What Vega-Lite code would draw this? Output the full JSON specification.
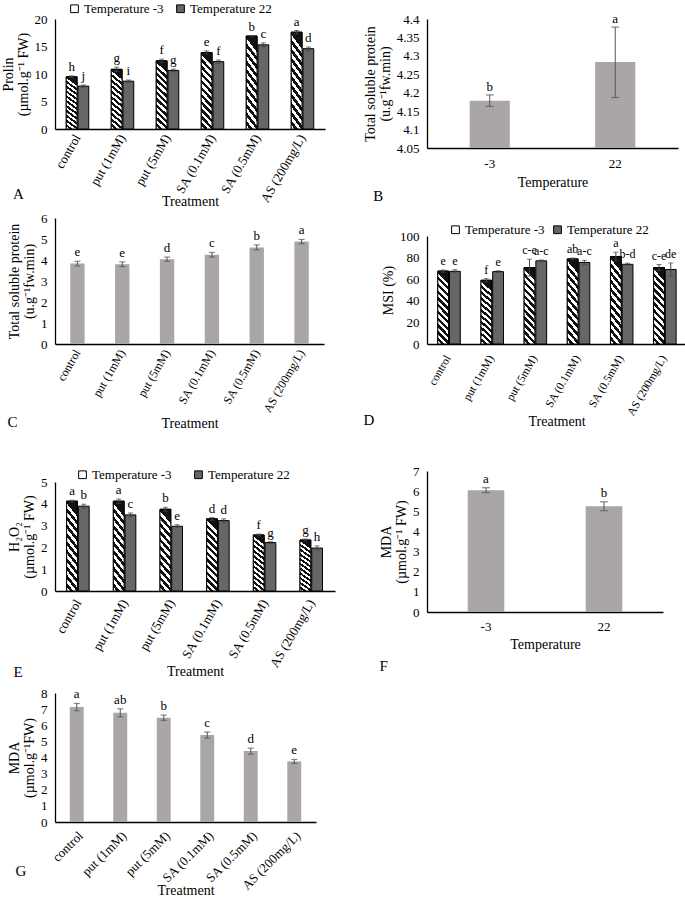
{
  "$schema": "https://vega.github.io/schema/vega-lite/v6.json",
  "padding": {"left": 1, "top": 2, "right": 0, "bottom": 0},
  "background": "white",
  "config": {
    "font": "Liberation Serif",
    "view": {"stroke": null},
    "axis": {"labelFont": "Liberation Serif", "titleFont": "Liberation Serif", "labelFontSize": 13, "titleFontSize": 14, "titleFontWeight": "normal", "labelColor": "#000", "titleColor": "#000", "domainColor": "#000", "domainWidth": 1.3, "ticks": false, "grid": false, "titleLineHeight": 15, "labelOverlap": false},
    "axisY": {"labelPadding": 8},
    "axisX": {"labelPadding": 4},
    "legend": {"labelFont": "Liberation Serif", "labelFontSize": 13, "labelColor": "#000", "padding": 0, "symbolType": "square", "symbolSize": 60, "symbolStrokeColor": "#000", "symbolStrokeWidth": 1, "labelOffset": 3},
    "title": {"font": "Liberation Serif", "fontSize": 15, "fontWeight": "normal", "color": "#000", "orient": "bottom", "anchor": "start", "frame": "bounds"},
    "text": {"font": "Liberation Serif", "fontSize": 13, "color": "#000"}
  },
  "spacing": 28,
  "resolve": {"scale": {"fill": "independent"}, "legend": {"fill": "independent"}},
  "hconcat": [
    {
      "spacing": 37,
      "resolve": {"scale": {"fill": "independent"}, "legend": {"fill": "independent"}},
      "vconcat": [
        {
          "spacing": 3,
          "resolve": {"scale": {"fill": "independent"}, "legend": {"fill": "independent"}},
          "vconcat": [
            {
              "width": 270, "height": 110,
              "title": {"text": "A", "offset": -21, "dx": 12},
              "data": {"values": [
                {"trt": "control", "t": "-3", "v": 9.5, "lo": 9.35, "hi": 9.65, "lab": "h"},
                {"trt": "control", "t": "22", "v": 7.8, "lo": 7.6, "hi": 8.0, "lab": "j"},
                {"trt": "put (1mM)", "t": "-3", "v": 10.85, "lo": 10.45, "hi": 11.25, "lab": "g"},
                {"trt": "put (1mM)", "t": "22", "v": 8.7, "lo": 8.5, "hi": 8.9, "lab": "i"},
                {"trt": "put (5mM)", "t": "-3", "v": 12.4, "lo": 12.1, "hi": 12.7, "lab": "f"},
                {"trt": "put (5mM)", "t": "22", "v": 10.65, "lo": 10.4, "hi": 10.9, "lab": "g"},
                {"trt": "SA (0.1mM)", "t": "-3", "v": 13.9, "lo": 13.6, "hi": 14.2, "lab": "e"},
                {"trt": "SA (0.1mM)", "t": "22", "v": 12.25, "lo": 11.95, "hi": 12.55, "lab": "f"},
                {"trt": "SA (0.5mM)", "t": "-3", "v": 16.9, "lo": 16.8, "hi": 17.0, "lab": "b"},
                {"trt": "SA (0.5mM)", "t": "22", "v": 15.3, "lo": 14.95, "hi": 15.65, "lab": "c"},
                {"trt": "AS (200mg/L)", "t": "-3", "v": 17.6, "lo": 17.3, "hi": 17.9, "lab": "a"},
                {"trt": "AS (200mg/L)", "t": "22", "v": 14.6, "lo": 14.3, "hi": 14.9, "lab": "d"}
              ]},
              "encoding": {
                "x": {"field": "trt", "type": "nominal", "sort": null, "scale": {"paddingInner": 0.5, "paddingOuter": 0.25}, "axis": {"title": "Treatment", "labelAngle": -60, "labelPadding": 6, "titlePadding": -10}},
                "xOffset": {"field": "t", "type": "nominal", "sort": null, "scale": {"domain": ["-3", "22"], "paddingInner": 0.08}}
              },
              "layer": [
                {
                  "mark": {"type": "bar", "stroke": "#000", "strokeWidth": 1},
                  "encoding": {
                    "y": {"field": "v", "type": "quantitative", "scale": {"domain": [0, 20]}, "axis": {"title": ["Prolin", "(µmol.g⁻¹ FW)"], "values": [0, 5, 10, 15, 20]}},
                    "fill": {"field": "t", "type": "nominal", "sort": null,
                      "scale": {"domain": ["-3", "22"], "range": ["#ffffff", "#666666"]},
                      "legend": {"title": null, "orient": "none", "legendX": 13, "legendY": -17, "direction": "horizontal", "columnPadding": 10, "labelExpr": "'Temperature ' + datum.label",
                        "encode": {"symbols": {"update": {"fill": [{"test": "datum.value === '-3'", "value": {"gradient": "linear", "x1": 0, "y1": 1, "x2": 0.6, "y2": 0, "stops": [{"offset": 0, "color": "#ffffff"}, {"offset": 0.17, "color": "#ffffff"}, {"offset": 0.17, "color": "#111111"}, {"offset": 0.33, "color": "#111111"}, {"offset": 0.33, "color": "#ffffff"}, {"offset": 0.5, "color": "#ffffff"}, {"offset": 0.5, "color": "#111111"}, {"offset": 0.67, "color": "#111111"}, {"offset": 0.67, "color": "#ffffff"}, {"offset": 0.83, "color": "#ffffff"}, {"offset": 0.83, "color": "#111111"}, {"offset": 1, "color": "#111111"}]}}, {"value": "#666666"}], "stroke": {"value": "#000"}}}}}}
                  }
                },
                {
                  "transform": [{"filter": {"field": "t", "equal": "-3"}}],
                  "mark": {"type": "bar", "stroke": "#000", "strokeWidth": 1, "fill": {"gradient": "linear", "x1": 0, "y1": 1, "x2": 0.15, "y2": 0, "stops": [
                          {"offset": 0, "color": "#ffffff"}, {"offset": 0.0455, "color": "#ffffff"}, {"offset": 0.0455, "color": "#111111"}, {"offset": 0.0909, "color": "#111111"},
                          {"offset": 0.0909, "color": "#ffffff"}, {"offset": 0.1364, "color": "#ffffff"}, {"offset": 0.1364, "color": "#111111"}, {"offset": 0.1818, "color": "#111111"},
                          {"offset": 0.1818, "color": "#ffffff"}, {"offset": 0.2273, "color": "#ffffff"}, {"offset": 0.2273, "color": "#111111"}, {"offset": 0.2727, "color": "#111111"},
                          {"offset": 0.2727, "color": "#ffffff"}, {"offset": 0.3182, "color": "#ffffff"}, {"offset": 0.3182, "color": "#111111"}, {"offset": 0.3636, "color": "#111111"},
                          {"offset": 0.3636, "color": "#ffffff"}, {"offset": 0.4091, "color": "#ffffff"}, {"offset": 0.4091, "color": "#111111"}, {"offset": 0.4545, "color": "#111111"},
                          {"offset": 0.4545, "color": "#ffffff"}, {"offset": 0.5, "color": "#ffffff"}, {"offset": 0.5, "color": "#111111"}, {"offset": 0.5455, "color": "#111111"},
                          {"offset": 0.5455, "color": "#ffffff"}, {"offset": 0.5909, "color": "#ffffff"}, {"offset": 0.5909, "color": "#111111"}, {"offset": 0.6364, "color": "#111111"},
                          {"offset": 0.6364, "color": "#ffffff"}, {"offset": 0.6818, "color": "#ffffff"}, {"offset": 0.6818, "color": "#111111"}, {"offset": 0.7273, "color": "#111111"},
                          {"offset": 0.7273, "color": "#ffffff"}, {"offset": 0.7727, "color": "#ffffff"}, {"offset": 0.7727, "color": "#111111"}, {"offset": 0.8182, "color": "#111111"},
                          {"offset": 0.8182, "color": "#ffffff"}, {"offset": 0.8636, "color": "#ffffff"}, {"offset": 0.8636, "color": "#111111"}, {"offset": 0.9091, "color": "#111111"},
                          {"offset": 0.9091, "color": "#ffffff"}, {"offset": 0.9545, "color": "#ffffff"}, {"offset": 0.9545, "color": "#111111"}, {"offset": 1, "color": "#111111"}]}},
                  "encoding": {"y": {"field": "v", "type": "quantitative", "axis": {"title": ["Prolin", "(µmol.g⁻¹ FW)"], "values": [0, 5, 10, 15, 20]}}}
                },
                {"mark": {"type": "rule", "color": "#444"}, "encoding": {"y": {"field": "lo", "type": "quantitative", "axis": {"title": ["Prolin", "(µmol.g⁻¹ FW)"], "values": [0, 5, 10, 15, 20]}}, "y2": {"field": "hi"}}},
                {"mark": {"type": "tick", "color": "#444", "size": 5, "thickness": 1}, "encoding": {"y": {"field": "lo", "type": "quantitative", "axis": {"title": ["Prolin", "(µmol.g⁻¹ FW)"], "values": [0, 5, 10, 15, 20]}}}},
                {"mark": {"type": "tick", "color": "#444", "size": 5, "thickness": 1}, "encoding": {"y": {"field": "hi", "type": "quantitative", "axis": {"title": ["Prolin", "(µmol.g⁻¹ FW)"], "values": [0, 5, 10, 15, 20]}}}},
                {"mark": {"type": "text", "baseline": "alphabetic", "dy": -5, "fill": "#000"}, "encoding": {"y": {"field": "hi", "type": "quantitative", "axis": {"title": ["Prolin", "(µmol.g⁻¹ FW)"], "values": [0, 5, 10, 15, 20]}}, "text": {"field": "lab"}}}
              ]
            },
            {
              "width": 269, "height": 126,
              "title": {"text": "C", "offset": -16, "dx": 0},
              "data": {"values": [
                {"trt": "control", "v": 3.83, "lo": 3.72, "hi": 3.94, "lab": "e"},
                {"trt": "put (1mM)", "v": 3.8, "lo": 3.69, "hi": 3.91, "lab": "e"},
                {"trt": "put (5mM)", "v": 4.04, "lo": 3.94, "hi": 4.14, "lab": "d"},
                {"trt": "SA (0.1mM)", "v": 4.25, "lo": 4.14, "hi": 4.36, "lab": "c"},
                {"trt": "SA (0.5mM)", "v": 4.6, "lo": 4.48, "hi": 4.72, "lab": "b"},
                {"trt": "AS (200mg/L)", "v": 4.88, "lo": 4.78, "hi": 4.98, "lab": "a"}
              ]},
              "encoding": {
                "x": {"field": "trt", "type": "nominal", "sort": null, "scale": {"paddingInner": 0.68, "paddingOuter": 0.34}, "axis": {"title": "Treatment", "labelAngle": -60, "labelFontSize": 12, "labelPadding": 6, "titlePadding": 3}}
              },
              "layer": [
                {"mark": {"type": "bar", "color": "#a9a6a5"}, "encoding": {"y": {"field": "v", "type": "quantitative", "scale": {"domain": [0, 6]}, "axis": {"title": ["Total soluble protein", "(u.g⁻¹fw.min)"], "values": [0, 1, 2, 3, 4, 5, 6]}}}},
                {"mark": {"type": "rule", "color": "#555"}, "encoding": {"y": {"field": "lo", "type": "quantitative", "axis": {"title": ["Total soluble protein", "(u.g⁻¹fw.min)"], "values": [0, 1, 2, 3, 4, 5, 6]}}, "y2": {"field": "hi"}}},
                {"mark": {"type": "tick", "color": "#555", "size": 6, "thickness": 1.2}, "encoding": {"y": {"field": "lo", "type": "quantitative", "axis": {"title": ["Total soluble protein", "(u.g⁻¹fw.min)"], "values": [0, 1, 2, 3, 4, 5, 6]}}}},
                {"mark": {"type": "tick", "color": "#555", "size": 6, "thickness": 1.2}, "encoding": {"y": {"field": "hi", "type": "quantitative", "axis": {"title": ["Total soluble protein", "(u.g⁻¹fw.min)"], "values": [0, 1, 2, 3, 4, 5, 6]}}}},
                {"mark": {"type": "text", "baseline": "alphabetic", "dy": -5, "fill": "#000"}, "encoding": {"y": {"field": "hi", "type": "quantitative", "axis": {"title": ["Total soluble protein", "(u.g⁻¹fw.min)"], "values": [0, 1, 2, 3, 4, 5, 6]}}, "text": {"field": "lab"}}}
              ]
            }
          ]
        },
        {
          "spacing": 6,
          "resolve": {"scale": {"fill": "independent"}, "legend": {"fill": "independent"}},
          "vconcat": [
            {
              "width": 280, "height": 109,
              "title": {"text": "E", "offset": -13, "dx": 6},
              "data": {"values": [
                {"trt": "control", "t": "-3", "v": 4.12, "lo": 4.08, "hi": 4.16, "lab": "a"},
                {"trt": "control", "t": "22", "v": 3.89, "lo": 3.8, "hi": 3.98, "lab": "b"},
                {"trt": "put (1mM)", "t": "-3", "v": 4.12, "lo": 4.02, "hi": 4.22, "lab": "a"},
                {"trt": "put (1mM)", "t": "22", "v": 3.49, "lo": 3.4, "hi": 3.58, "lab": "c"},
                {"trt": "put (5mM)", "t": "-3", "v": 3.75, "lo": 3.66, "hi": 3.84, "lab": "b"},
                {"trt": "put (5mM)", "t": "22", "v": 2.97, "lo": 2.9, "hi": 3.04, "lab": "e"},
                {"trt": "SA (0.1mM)", "t": "-3", "v": 3.31, "lo": 3.25, "hi": 3.37, "lab": "d"},
                {"trt": "SA (0.1mM)", "t": "22", "v": 3.23, "lo": 3.15, "hi": 3.31, "lab": "d"},
                {"trt": "SA (0.5mM)", "t": "-3", "v": 2.57, "lo": 2.53, "hi": 2.61, "lab": "f"},
                {"trt": "SA (0.5mM)", "t": "22", "v": 2.22, "lo": 2.18, "hi": 2.26, "lab": "g"},
                {"trt": "AS (200mg/L)", "t": "-3", "v": 2.34, "lo": 2.3, "hi": 2.38, "lab": "g"},
                {"trt": "AS (200mg/L)", "t": "22", "v": 1.97, "lo": 1.87, "hi": 2.07, "lab": "h"}
              ]},
              "encoding": {
                "x": {"field": "trt", "type": "nominal", "sort": null, "scale": {"paddingInner": 0.5, "paddingOuter": 0.25}, "axis": {"title": "Treatment", "labelAngle": -60, "labelPadding": 9, "titlePadding": -5}},
                "xOffset": {"field": "t", "type": "nominal", "sort": null, "scale": {"domain": ["-3", "22"], "paddingInner": 0.08}}
              },
              "layer": [
                {
                  "mark": {"type": "bar", "stroke": "#000", "strokeWidth": 1},
                  "encoding": {
                    "y": {"field": "v", "type": "quantitative", "scale": {"domain": [0, 5]}, "axis": {"title": ["H₂O₂", "(µmol.g⁻¹ FW)"], "values": [0, 1, 2, 3, 4, 5]}},
                    "fill": {"field": "t", "type": "nominal", "sort": null,
                      "scale": {"domain": ["-3", "22"], "range": ["#ffffff", "#666666"]},
                      "legend": {"title": null, "orient": "none", "legendX": 21, "legendY": -14, "direction": "horizontal", "columnPadding": 20, "labelExpr": "'Temperature ' + datum.label",
                        "encode": {"symbols": {"update": {"fill": [{"test": "datum.value === '-3'", "value": {"gradient": "linear", "x1": 0, "y1": 1, "x2": 0.6, "y2": 0, "stops": [{"offset": 0, "color": "#ffffff"}, {"offset": 0.17, "color": "#ffffff"}, {"offset": 0.17, "color": "#111111"}, {"offset": 0.33, "color": "#111111"}, {"offset": 0.33, "color": "#ffffff"}, {"offset": 0.5, "color": "#ffffff"}, {"offset": 0.5, "color": "#111111"}, {"offset": 0.67, "color": "#111111"}, {"offset": 0.67, "color": "#ffffff"}, {"offset": 0.83, "color": "#ffffff"}, {"offset": 0.83, "color": "#111111"}, {"offset": 1, "color": "#111111"}]}}, {"value": "#666666"}], "stroke": {"value": "#000"}}}}}}
                  }
                },
                {
                  "transform": [{"filter": {"field": "t", "equal": "-3"}}],
                  "mark": {"type": "bar", "stroke": "#000", "strokeWidth": 1, "fill": {"gradient": "linear", "x1": 0, "y1": 1, "x2": 0.15, "y2": 0, "stops": [
                          {"offset": 0, "color": "#ffffff"}, {"offset": 0.0455, "color": "#ffffff"}, {"offset": 0.0455, "color": "#111111"}, {"offset": 0.0909, "color": "#111111"},
                          {"offset": 0.0909, "color": "#ffffff"}, {"offset": 0.1364, "color": "#ffffff"}, {"offset": 0.1364, "color": "#111111"}, {"offset": 0.1818, "color": "#111111"},
                          {"offset": 0.1818, "color": "#ffffff"}, {"offset": 0.2273, "color": "#ffffff"}, {"offset": 0.2273, "color": "#111111"}, {"offset": 0.2727, "color": "#111111"},
                          {"offset": 0.2727, "color": "#ffffff"}, {"offset": 0.3182, "color": "#ffffff"}, {"offset": 0.3182, "color": "#111111"}, {"offset": 0.3636, "color": "#111111"},
                          {"offset": 0.3636, "color": "#ffffff"}, {"offset": 0.4091, "color": "#ffffff"}, {"offset": 0.4091, "color": "#111111"}, {"offset": 0.4545, "color": "#111111"},
                          {"offset": 0.4545, "color": "#ffffff"}, {"offset": 0.5, "color": "#ffffff"}, {"offset": 0.5, "color": "#111111"}, {"offset": 0.5455, "color": "#111111"},
                          {"offset": 0.5455, "color": "#ffffff"}, {"offset": 0.5909, "color": "#ffffff"}, {"offset": 0.5909, "color": "#111111"}, {"offset": 0.6364, "color": "#111111"},
                          {"offset": 0.6364, "color": "#ffffff"}, {"offset": 0.6818, "color": "#ffffff"}, {"offset": 0.6818, "color": "#111111"}, {"offset": 0.7273, "color": "#111111"},
                          {"offset": 0.7273, "color": "#ffffff"}, {"offset": 0.7727, "color": "#ffffff"}, {"offset": 0.7727, "color": "#111111"}, {"offset": 0.8182, "color": "#111111"},
                          {"offset": 0.8182, "color": "#ffffff"}, {"offset": 0.8636, "color": "#ffffff"}, {"offset": 0.8636, "color": "#111111"}, {"offset": 0.9091, "color": "#111111"},
                          {"offset": 0.9091, "color": "#ffffff"}, {"offset": 0.9545, "color": "#ffffff"}, {"offset": 0.9545, "color": "#111111"}, {"offset": 1, "color": "#111111"}]}},
                  "encoding": {"y": {"field": "v", "type": "quantitative", "axis": {"title": ["H₂O₂", "(µmol.g⁻¹ FW)"], "values": [0, 1, 2, 3, 4, 5]}}}
                },
                {"mark": {"type": "rule", "color": "#444"}, "encoding": {"y": {"field": "lo", "type": "quantitative", "axis": {"title": ["H₂O₂", "(µmol.g⁻¹ FW)"], "values": [0, 1, 2, 3, 4, 5]}}, "y2": {"field": "hi"}}},
                {"mark": {"type": "tick", "color": "#444", "size": 5, "thickness": 1}, "encoding": {"y": {"field": "lo", "type": "quantitative", "axis": {"title": ["H₂O₂", "(µmol.g⁻¹ FW)"], "values": [0, 1, 2, 3, 4, 5]}}}},
                {"mark": {"type": "tick", "color": "#444", "size": 5, "thickness": 1}, "encoding": {"y": {"field": "hi", "type": "quantitative", "axis": {"title": ["H₂O₂", "(µmol.g⁻¹ FW)"], "values": [0, 1, 2, 3, 4, 5]}}}},
                {"mark": {"type": "text", "baseline": "alphabetic", "dy": -5, "fill": "#000"}, "encoding": {"y": {"field": "hi", "type": "quantitative", "axis": {"title": ["H₂O₂", "(µmol.g⁻¹ FW)"], "values": [0, 1, 2, 3, 4, 5]}}, "text": {"field": "lab"}}}
              ]
            },
            {
              "width": 261, "height": 129,
              "title": {"text": "G", "offset": -33, "dx": 8},
              "data": {"values": [
                {"trt": "control", "v": 7.13, "lo": 6.9, "hi": 7.35, "lab": "a"},
                {"trt": "put (1mM)", "v": 6.78, "lo": 6.52, "hi": 7.02, "lab": "ab"},
                {"trt": "put (5mM)", "v": 6.47, "lo": 6.3, "hi": 6.63, "lab": "b"},
                {"trt": "SA (0.1mM)", "v": 5.4, "lo": 5.2, "hi": 5.58, "lab": "c"},
                {"trt": "SA (0.5mM)", "v": 4.4, "lo": 4.2, "hi": 4.58, "lab": "d"},
                {"trt": "AS (200mg/L)", "v": 3.76, "lo": 3.63, "hi": 3.88, "lab": "e"}
              ]},
              "encoding": {
                "x": {"field": "trt", "type": "nominal", "sort": null, "scale": {"paddingInner": 0.68, "paddingOuter": 0.34}, "axis": {"title": "Treatment", "labelAngle": -45, "labelPadding": 7, "titlePadding": -9}}
              },
              "layer": [
                {"mark": {"type": "bar", "color": "#a9a6a5"}, "encoding": {"y": {"field": "v", "type": "quantitative", "scale": {"domain": [0, 8]}, "axis": {"title": ["MDA", "(µmol.g⁻¹FW)"], "values": [0, 1, 2, 3, 4, 5, 6, 7, 8]}}}},
                {"mark": {"type": "rule", "color": "#555"}, "encoding": {"y": {"field": "lo", "type": "quantitative", "axis": {"title": ["MDA", "(µmol.g⁻¹FW)"], "values": [0, 1, 2, 3, 4, 5, 6, 7, 8]}}, "y2": {"field": "hi"}}},
                {"mark": {"type": "tick", "color": "#555", "size": 6, "thickness": 1.2}, "encoding": {"y": {"field": "lo", "type": "quantitative", "axis": {"title": ["MDA", "(µmol.g⁻¹FW)"], "values": [0, 1, 2, 3, 4, 5, 6, 7, 8]}}}},
                {"mark": {"type": "tick", "color": "#555", "size": 6, "thickness": 1.2}, "encoding": {"y": {"field": "hi", "type": "quantitative", "axis": {"title": ["MDA", "(µmol.g⁻¹FW)"], "values": [0, 1, 2, 3, 4, 5, 6, 7, 8]}}}},
                {"mark": {"type": "text", "baseline": "alphabetic", "dy": -5, "fill": "#000"}, "encoding": {"y": {"field": "hi", "type": "quantitative", "axis": {"title": ["MDA", "(µmol.g⁻¹FW)"], "values": [0, 1, 2, 3, 4, 5, 6, 7, 8]}}, "text": {"field": "lab"}}}
              ]
            }
          ]
        }
      ]
    },
    {
      "spacing": 36,
      "resolve": {"scale": {"fill": "independent"}, "legend": {"fill": "independent"}},
      "vconcat": [
        {
          "spacing": 19,
          "resolve": {"scale": {"fill": "independent"}, "legend": {"fill": "independent"}},
          "vconcat": [
            {
              "width": 251, "height": 129,
              "title": {"text": "B", "offset": 0, "dx": 10},
              "data": {"values": [
                {"temp": "-3", "v": 4.178, "lo": 4.163, "hi": 4.194, "lab": "b"},
                {"temp": "22", "v": 4.283, "lo": 4.187, "hi": 4.378, "lab": "a"}
              ]},
              "encoding": {
                "x": {"field": "temp", "type": "nominal", "sort": null, "scale": {"paddingInner": 0.68, "paddingOuter": 0.34}, "axis": {"title": "Temperature", "labelAngle": 0, "labelPadding": 9, "titlePadding": 5}}
              },
              "layer": [
                {"mark": {"type": "bar", "color": "#a9a6a5"}, "encoding": {"y": {"field": "v", "type": "quantitative", "scale": {"domain": [4.05, 4.4], "zero": false, "nice": false}, "axis": {"title": ["Total soluble protein", "(u.g⁻¹fw.min)"], "values": [4.05, 4.1, 4.15, 4.2, 4.25, 4.3, 4.35, 4.4], "format": ".3~r"}}, "y2": {"datum": 4.05}}},
                {"mark": {"type": "rule", "color": "#555"}, "encoding": {"y": {"field": "lo", "type": "quantitative", "axis": {"title": ["Total soluble protein", "(u.g⁻¹fw.min)"], "values": [4.05, 4.1, 4.15, 4.2, 4.25, 4.3, 4.35, 4.4], "format": ".3~r"}}, "y2": {"field": "hi"}}},
                {"mark": {"type": "tick", "color": "#555", "size": 8, "thickness": 1.2}, "encoding": {"y": {"field": "lo", "type": "quantitative", "axis": {"title": ["Total soluble protein", "(u.g⁻¹fw.min)"], "values": [4.05, 4.1, 4.15, 4.2, 4.25, 4.3, 4.35, 4.4], "format": ".3~r"}}}},
                {"mark": {"type": "tick", "color": "#555", "size": 8, "thickness": 1.2}, "encoding": {"y": {"field": "hi", "type": "quantitative", "axis": {"title": ["Total soluble protein", "(u.g⁻¹fw.min)"], "values": [4.05, 4.1, 4.15, 4.2, 4.25, 4.3, 4.35, 4.4], "format": ".3~r"}}}},
                {"mark": {"type": "text", "baseline": "alphabetic", "dy": -4, "fill": "#000"}, "encoding": {"y": {"field": "hi", "type": "quantitative", "axis": {"title": ["Total soluble protein", "(u.g⁻¹fw.min)"], "values": [4.05, 4.1, 4.15, 4.2, 4.25, 4.3, 4.35, 4.4], "format": ".3~r"}}, "text": {"field": "lab"}}}
              ]
            },
            {
              "width": 259, "height": 108,
              "title": {"text": "D", "offset": -15, "dx": -18},
              "data": {"values": [
                {"trt": "control", "t": "-3", "v": 67.5, "lo": 66.5, "hi": 68.5, "lab": "e"},
                {"trt": "control", "t": "22", "v": 67.3, "lo": 65.8, "hi": 68.8, "lab": "e"},
                {"trt": "put (1mM)", "t": "-3", "v": 59, "lo": 57.5, "hi": 60.5, "lab": "f"},
                {"trt": "put (1mM)", "t": "22", "v": 67, "lo": 66.2, "hi": 67.8, "lab": "e"},
                {"trt": "put (5mM)", "t": "-3", "v": 70.8, "lo": 63, "hi": 78.5, "lab": "c-e"},
                {"trt": "put (5mM)", "t": "22", "v": 77, "lo": 76.2, "hi": 77.8, "lab": "a-c"},
                {"trt": "SA (0.1mM)", "t": "-3", "v": 78.8, "lo": 78, "hi": 79.6, "lab": "ab"},
                {"trt": "SA (0.1mM)", "t": "22", "v": 75.5, "lo": 73.5, "hi": 77.5, "lab": "a-c"},
                {"trt": "SA (0.5mM)", "t": "-3", "v": 81, "lo": 77, "hi": 85, "lab": "a"},
                {"trt": "SA (0.5mM)", "t": "22", "v": 73.8, "lo": 72.8, "hi": 74.8, "lab": "b-d"},
                {"trt": "AS (200mg/L)", "t": "-3", "v": 70.8, "lo": 68, "hi": 73.6, "lab": "c-e"},
                {"trt": "AS (200mg/L)", "t": "22", "v": 69, "lo": 63, "hi": 75, "lab": "de"}
              ]},
              "encoding": {
                "x": {"field": "trt", "type": "nominal", "sort": null, "scale": {"paddingInner": 0.5, "paddingOuter": 0.25}, "axis": {"title": "Treatment", "labelAngle": -60, "labelFontSize": 11.5, "labelPadding": 12, "titlePadding": -3}},
                "xOffset": {"field": "t", "type": "nominal", "sort": null, "scale": {"domain": ["-3", "22"], "paddingInner": 0.08}}
              },
              "layer": [
                {
                  "mark": {"type": "bar", "stroke": "#000", "strokeWidth": 1},
                  "encoding": {
                    "y": {"field": "v", "type": "quantitative", "scale": {"domain": [0, 100]}, "axis": {"title": "MSI (%)", "values": [0, 20, 40, 60, 80, 100]}},
                    "fill": {"field": "t", "type": "nominal", "sort": null,
                      "scale": {"domain": ["-3", "22"], "range": ["#ffffff", "#666666"]},
                      "legend": {"title": null, "orient": "none", "legendX": 22, "legendY": -13, "direction": "horizontal", "columnPadding": 6, "labelExpr": "'Temperature ' + datum.label",
                        "encode": {"symbols": {"update": {"fill": [{"test": "datum.value === '-3'", "value": {"gradient": "linear", "x1": 0, "y1": 1, "x2": 0.6, "y2": 0, "stops": [{"offset": 0, "color": "#ffffff"}, {"offset": 0.17, "color": "#ffffff"}, {"offset": 0.17, "color": "#111111"}, {"offset": 0.33, "color": "#111111"}, {"offset": 0.33, "color": "#ffffff"}, {"offset": 0.5, "color": "#ffffff"}, {"offset": 0.5, "color": "#111111"}, {"offset": 0.67, "color": "#111111"}, {"offset": 0.67, "color": "#ffffff"}, {"offset": 0.83, "color": "#ffffff"}, {"offset": 0.83, "color": "#111111"}, {"offset": 1, "color": "#111111"}]}}, {"value": "#666666"}], "stroke": {"value": "#000"}}}}}}
                  }
                },
                {
                  "transform": [{"filter": {"field": "t", "equal": "-3"}}],
                  "mark": {"type": "bar", "stroke": "#000", "strokeWidth": 1, "fill": {"gradient": "linear", "x1": 0, "y1": 1, "x2": 0.15, "y2": 0, "stops": [
                          {"offset": 0, "color": "#ffffff"}, {"offset": 0.0455, "color": "#ffffff"}, {"offset": 0.0455, "color": "#111111"}, {"offset": 0.0909, "color": "#111111"},
                          {"offset": 0.0909, "color": "#ffffff"}, {"offset": 0.1364, "color": "#ffffff"}, {"offset": 0.1364, "color": "#111111"}, {"offset": 0.1818, "color": "#111111"},
                          {"offset": 0.1818, "color": "#ffffff"}, {"offset": 0.2273, "color": "#ffffff"}, {"offset": 0.2273, "color": "#111111"}, {"offset": 0.2727, "color": "#111111"},
                          {"offset": 0.2727, "color": "#ffffff"}, {"offset": 0.3182, "color": "#ffffff"}, {"offset": 0.3182, "color": "#111111"}, {"offset": 0.3636, "color": "#111111"},
                          {"offset": 0.3636, "color": "#ffffff"}, {"offset": 0.4091, "color": "#ffffff"}, {"offset": 0.4091, "color": "#111111"}, {"offset": 0.4545, "color": "#111111"},
                          {"offset": 0.4545, "color": "#ffffff"}, {"offset": 0.5, "color": "#ffffff"}, {"offset": 0.5, "color": "#111111"}, {"offset": 0.5455, "color": "#111111"},
                          {"offset": 0.5455, "color": "#ffffff"}, {"offset": 0.5909, "color": "#ffffff"}, {"offset": 0.5909, "color": "#111111"}, {"offset": 0.6364, "color": "#111111"},
                          {"offset": 0.6364, "color": "#ffffff"}, {"offset": 0.6818, "color": "#ffffff"}, {"offset": 0.6818, "color": "#111111"}, {"offset": 0.7273, "color": "#111111"},
                          {"offset": 0.7273, "color": "#ffffff"}, {"offset": 0.7727, "color": "#ffffff"}, {"offset": 0.7727, "color": "#111111"}, {"offset": 0.8182, "color": "#111111"},
                          {"offset": 0.8182, "color": "#ffffff"}, {"offset": 0.8636, "color": "#ffffff"}, {"offset": 0.8636, "color": "#111111"}, {"offset": 0.9091, "color": "#111111"},
                          {"offset": 0.9091, "color": "#ffffff"}, {"offset": 0.9545, "color": "#ffffff"}, {"offset": 0.9545, "color": "#111111"}, {"offset": 1, "color": "#111111"}]}},
                  "encoding": {"y": {"field": "v", "type": "quantitative", "axis": {"title": "MSI (%)", "values": [0, 20, 40, 60, 80, 100]}}}
                },
                {"mark": {"type": "rule", "color": "#444"}, "encoding": {"y": {"field": "lo", "type": "quantitative", "axis": {"title": "MSI (%)", "values": [0, 20, 40, 60, 80, 100]}}, "y2": {"field": "hi"}}},
                {"mark": {"type": "tick", "color": "#444", "size": 5, "thickness": 1}, "encoding": {"y": {"field": "lo", "type": "quantitative", "axis": {"title": "MSI (%)", "values": [0, 20, 40, 60, 80, 100]}}}},
                {"mark": {"type": "tick", "color": "#444", "size": 5, "thickness": 1}, "encoding": {"y": {"field": "hi", "type": "quantitative", "axis": {"title": "MSI (%)", "values": [0, 20, 40, 60, 80, 100]}}}},
                {"mark": {"type": "text", "baseline": "alphabetic", "dy": -5, "fill": "#000", "fontSize": 12}, "encoding": {"y": {"field": "hi", "type": "quantitative", "axis": {"title": "MSI (%)", "values": [0, 20, 40, 60, 80, 100]}}, "text": {"field": "lab"}}}
              ]
            }
          ]
        },
        {
          "width": 236, "height": 141,
          "title": {"text": "F", "offset": 8, "dx": 0},
          "data": {"values": [
            {"temp": "-3", "v": 6.05, "lo": 5.93, "hi": 6.17, "lab": "a"},
            {"temp": "22", "v": 5.25, "lo": 5.03, "hi": 5.47, "lab": "b"}
          ]},
          "encoding": {
            "x": {"field": "temp", "type": "nominal", "sort": null, "scale": {"paddingInner": 0.69, "paddingOuter": 0.345}, "axis": {"title": "Temperature", "labelAngle": 0, "labelPadding": 8, "titlePadding": 4}}
          },
          "layer": [
            {"mark": {"type": "bar", "color": "#a9a6a5"}, "encoding": {"y": {"field": "v", "type": "quantitative", "scale": {"domain": [0, 7]}, "axis": {"title": ["MDA", "(µmol.g⁻¹ FW)"], "values": [0, 1, 2, 3, 4, 5, 6, 7]}}}},
            {"mark": {"type": "rule", "color": "#555"}, "encoding": {"y": {"field": "lo", "type": "quantitative", "axis": {"title": ["MDA", "(µmol.g⁻¹ FW)"], "values": [0, 1, 2, 3, 4, 5, 6, 7]}}, "y2": {"field": "hi"}}},
            {"mark": {"type": "tick", "color": "#555", "size": 8, "thickness": 1.2}, "encoding": {"y": {"field": "lo", "type": "quantitative", "axis": {"title": ["MDA", "(µmol.g⁻¹ FW)"], "values": [0, 1, 2, 3, 4, 5, 6, 7]}}}},
            {"mark": {"type": "tick", "color": "#555", "size": 8, "thickness": 1.2}, "encoding": {"y": {"field": "hi", "type": "quantitative", "axis": {"title": ["MDA", "(µmol.g⁻¹ FW)"], "values": [0, 1, 2, 3, 4, 5, 6, 7]}}}},
            {"mark": {"type": "text", "baseline": "alphabetic", "dy": -5, "fill": "#000"}, "encoding": {"y": {"field": "hi", "type": "quantitative", "axis": {"title": ["MDA", "(µmol.g⁻¹ FW)"], "values": [0, 1, 2, 3, 4, 5, 6, 7]}}, "text": {"field": "lab"}}}
          ]
        }
      ]
    }
  ]
}
